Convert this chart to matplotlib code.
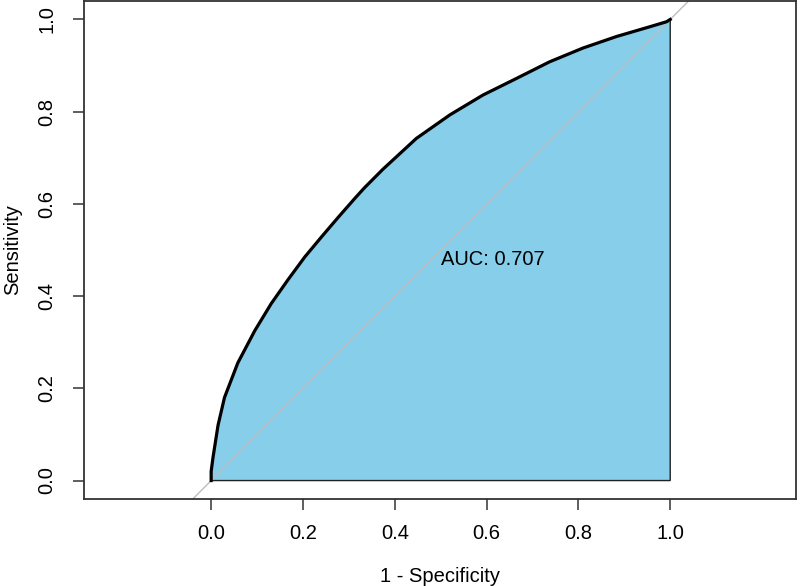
import matplotlib
matplotlib.use('Agg')
import matplotlib.pyplot as plt

plt.rcParams['font.family'] = ['Liberation Sans', 'DejaVu Sans']

# ROC curve (x = 1 - specificity)
fpr = [0.0, 0.0, 0.004, 0.015, 0.029, 0.058, 0.095, 0.131, 0.167, 0.204,
       0.240, 0.276, 0.313, 0.334, 0.374, 0.447, 0.520, 0.592, 0.665, 0.737,
       0.810, 0.883, 0.955, 0.992, 1.0]
tpr = [0.0, 0.02, 0.05, 0.12, 0.18, 0.255, 0.325, 0.384, 0.435, 0.485,
       0.528, 0.570, 0.612, 0.635, 0.675, 0.742, 0.793, 0.836, 0.872, 0.908,
       0.938, 0.963, 0.984, 0.995, 1.0]
auc_label = 'AUC: 0.707'
ticks = [0.0, 0.2, 0.4, 0.6, 0.8, 1.0]

fig = plt.figure(figsize=(8, 5.86), dpi=100)
ax = fig.add_axes([84 / 800, 87 / 586, 712 / 800, 498 / 586])

# diagonal reference line across the whole panel
ax.axline((0, 0), (1, 1), color='#bebebe', lw=1, zorder=1)

# AUC polygon
px = fpr + [1.0, 0.0]
py = tpr + [0.0, 0.0]
ax.fill(px, py, facecolor='#87ceeb', edgecolor='#222222', lw=1, zorder=2)
ax.plot([0, 1], [0, 1], color='#bebebe', lw=1, zorder=3)
ax.plot(fpr, tpr, color='black', lw=2.3, zorder=4)

ax.text(0.5, 0.5, auc_label, ha='left', va='top', fontsize=14.5, zorder=5)

ax.set_xlim(-0.277, 1.274)
ax.set_ylim(-0.04, 1.04)
ax.set_xticks(ticks)
ax.set_yticks(ticks)
ax.set_xticklabels(['%.1f' % t for t in ticks])
ax.set_yticklabels(['%.1f' % t for t in ticks], rotation=90, va='center')
ax.tick_params(axis='both', length=8, width=1.1, color='#333333', labelsize=14.5, direction='out')
ax.tick_params(axis='x', pad=10)
ax.tick_params(axis='y', pad=12)
for s in ax.spines.values():
    s.set_linewidth(1.3)
    s.set_color('#333333')

ax.set_xlabel('1 - Specificity', fontsize=14.5, labelpad=17)
ax.set_ylabel('Sensitivity', fontsize=14.5, labelpad=11)

fig.savefig('out.png', dpi=100)
